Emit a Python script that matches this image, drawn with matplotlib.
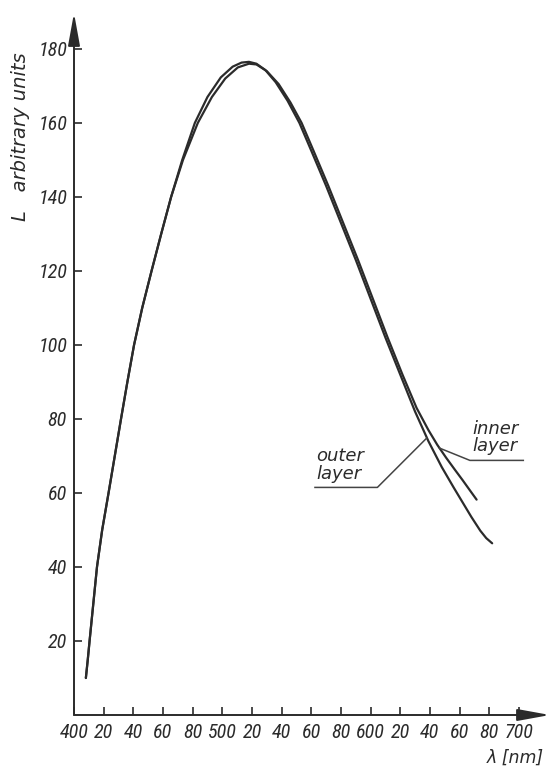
import numpy as np
import matplotlib
matplotlib.use("Agg")
import matplotlib.pyplot as plt
from matplotlib import font_manager

# ---- data ----
wl_outer = [408, 409.3, 410.5, 412, 413.5, 415.5, 419, 423.3, 427.5, 431.7, 436, 440.5, 446,
            452.3, 458.8, 465.5, 473, 481.5, 490, 499, 507, 513, 518, 523, 529, 536, 544,
            552, 560, 570, 580, 590, 600, 610, 620, 630, 639, 648, 656, 662, 668, 674, 678, 682]
val_outer = [10, 15, 20, 26, 32, 40, 50, 60, 70, 80, 90, 100, 110,
             120, 130, 140, 150, 160, 167, 172.3, 175.2, 176.3, 176.5, 176, 174.3, 171, 166,
             160, 152.5, 143, 133, 123, 112.5, 102, 92, 82, 74, 67, 61.5, 57.5, 53.5, 49.8, 47.8, 46.4]

wl_inner = [408, 409.3, 410.5, 412, 413.5, 415.5, 419, 423.3, 427.5, 431.7, 436, 440.5, 446,
            452.3, 458.8, 465.5, 473.5, 483.5, 493, 502, 510.5, 518, 523, 530, 538, 546,
            553.5, 561.5, 571.5, 581.5, 591.5, 601.5, 611.5, 621.5, 631, 639, 645, 651, 657,
            662, 667, 671.5]
val_inner = [10, 15, 20, 26, 32, 40, 50, 60, 70, 80, 90, 100, 110,
             120, 130, 140, 150, 160, 167, 172, 175, 176, 175.8, 174, 170.5, 165.5,
             160, 152.5, 143, 133, 123, 112.5, 102, 92, 83, 77, 73, 69.5, 66.2,
             63.5, 60.7, 58.2]

x_ticks = list(range(400, 701, 20))
x_ticklabels = ["400", "20", "40", "60", "80", "500", "20", "40", "60", "80",
                "600", "20", "40", "60", "80", "700"]
y_ticks = list(range(20, 181, 20))
y_ticklabels = [str(v) for v in y_ticks]

series_labels = ["outer\nlayer", "inner\nlayer"]
x_label = "λ [nm]"
y_label = "L   arbitrary units"

# ---- fonts ----
avail = {f.name for f in font_manager.fontManager.ttflist}
tick_family = ["DejaVu Sans"]
for cand in ["Liberation Sans Narrow", "Roboto Condensed", "Liberation Sans", "Roboto"]:
    if cand in avail:
        tick_family = [cand, "DejaVu Sans"]
        break
text_family = ["DejaVu Sans"]

INK = "#2b2b2b"
W, H = 552, 767
fig = plt.figure(figsize=(W / 100, H / 100), dpi=100)
fig.patch.set_facecolor("white")

x0, x1 = 74, 550
y0, y1 = 715, 13
ax = fig.add_axes([x0 / W, 1 - y0 / H, (x1 - x0) / W, (y0 - y1) / H])
ax.set_xlim(400, 721)
ax.set_ylim(0, 189.7)

ax.plot(wl_outer, val_outer, color=INK, lw=1.6, solid_capstyle="round", solid_joinstyle="round")
ax.plot(wl_inner, val_inner, color=INK, lw=1.6, solid_capstyle="round", solid_joinstyle="round")

for s in ax.spines.values():
    s.set_visible(False)

arrow_kw = dict(arrowstyle="-|>,head_length=1.1,head_width=0.2", lw=1.4, color=INK,
                shrinkA=0, shrinkB=0, mutation_scale=18)
ax.annotate("", xy=(0, 1), xytext=(0, 0), xycoords="axes fraction", arrowprops=arrow_kw,
            annotation_clip=False)
ax.annotate("", xy=(1, 0), xytext=(0, 0), xycoords="axes fraction", arrowprops=arrow_kw,
            annotation_clip=False)

ax.set_xticks(x_ticks)
ax.set_xticklabels(x_ticklabels, fontstyle="italic", family=tick_family, fontsize=14.5, color=INK)
ax.set_yticks(y_ticks)
ax.set_yticklabels(y_ticklabels, fontstyle="italic", family=tick_family, fontsize=14.5, color=INK)
ax.tick_params(axis="both", direction="in", length=5.5, width=1.2, color=INK)
ax.tick_params(axis="x", pad=6)
ax.tick_params(axis="y", pad=5)

# ---- leader lines for the labels ----
outer_touch_wl = 638
inner_touch_wl = 646.5
outer_leader_x = [outer_touch_wl, 604.6, 562.5]
outer_leader_y = [float(np.interp(outer_touch_wl, wl_outer, val_outer)), 61.5, 61.5]
inner_leader_x = [inner_touch_wl, 667, 703]
inner_leader_y = [float(np.interp(inner_touch_wl, wl_inner, val_inner)), 68.8, 68.8]
ax.plot(outer_leader_x, outer_leader_y, color="#444444", lw=1.1, clip_on=False)
ax.plot(inner_leader_x, inner_leader_y, color="#444444", lw=1.1, clip_on=False)

ax.text(563.5, 62.8, series_labels[0], ha="left", va="bottom", fontsize=13,
        fontstyle="italic", family=text_family, color=INK, linespacing=0.95)
ax.text(668.5, 70.3, series_labels[1], ha="left", va="bottom", fontsize=13,
        fontstyle="italic", family=text_family, color=INK, linespacing=0.95)

fig.text(515 / W, 1 - 758 / H, x_label, ha="center", va="center", fontsize=12.5,
         fontstyle="italic", family=text_family, color=INK)
fig.text(21 / W, 1 - 137 / H, y_label, ha="center", va="center", rotation=90, fontsize=14,
         fontstyle="italic", family=text_family, color=INK)

fig.savefig("out.png", dpi=100, facecolor="white")
